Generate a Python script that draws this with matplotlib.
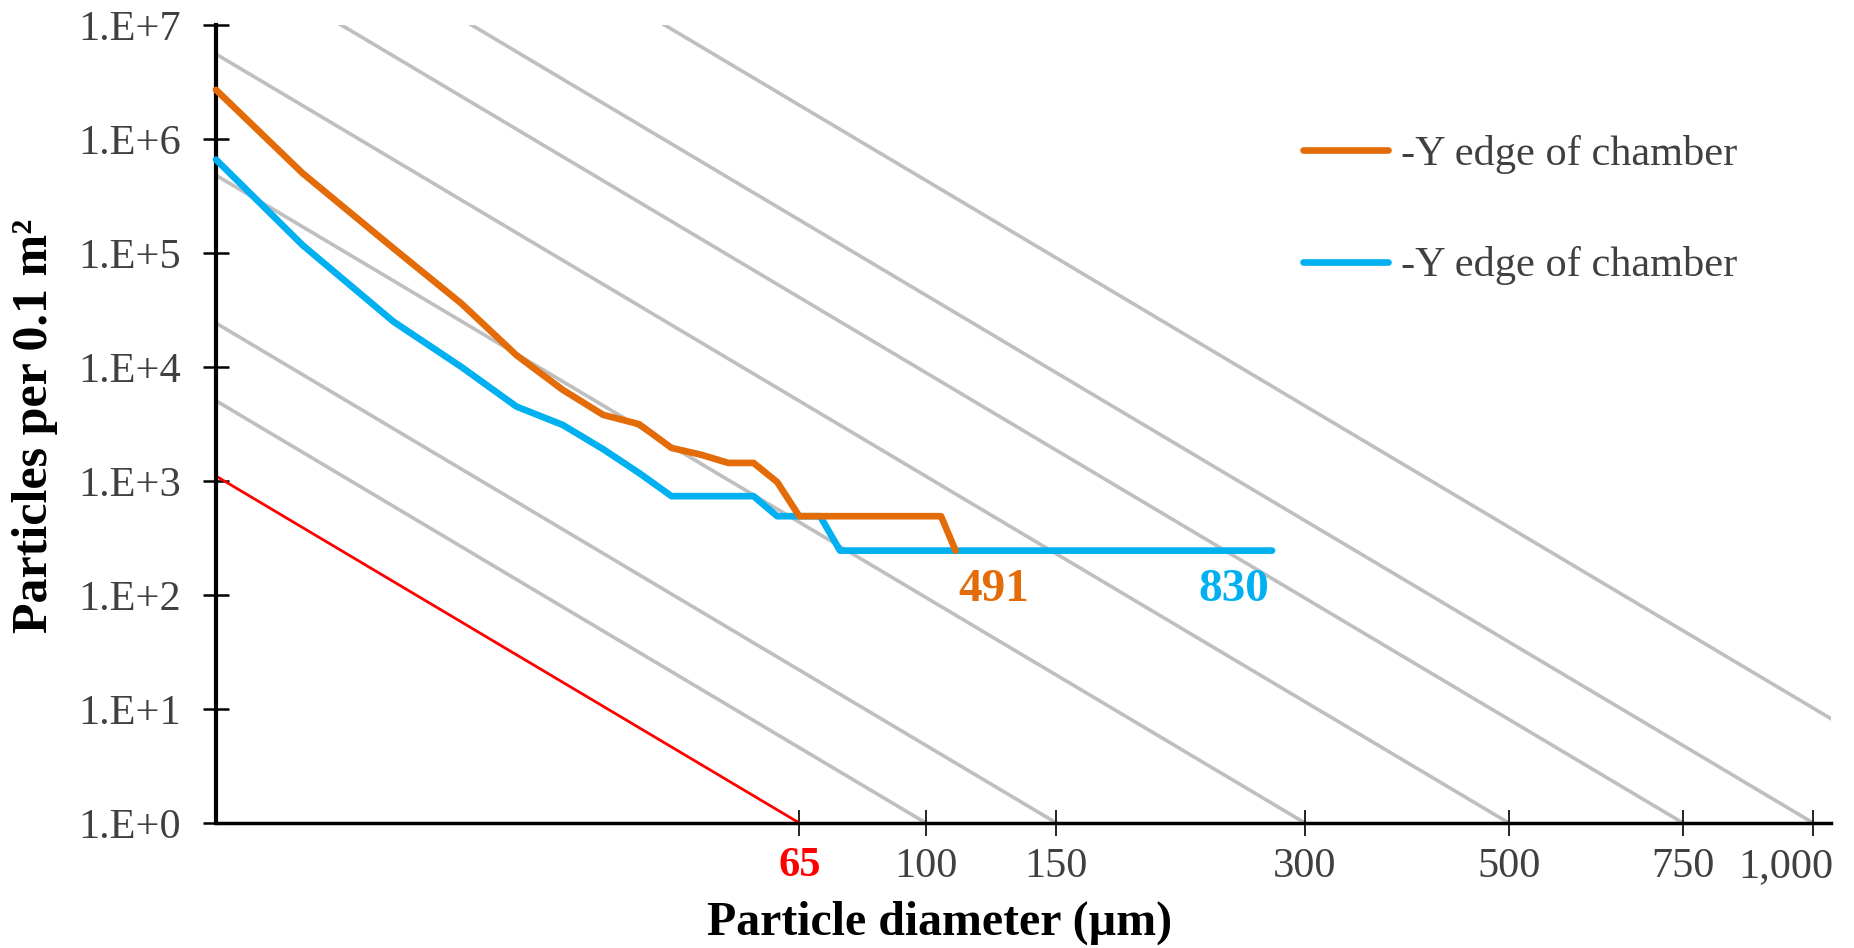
import numpy as np
import matplotlib.pyplot as plt
from matplotlib.transforms import ScaledTranslation

plt.rcParams['font.family'] = ['Liberation Serif', 'DejaVu Serif']

# ---------------------------------------------
# data
# ---------------------------------------------
size_orange = [1, 5, 10, 15, 20, 25, 30, 35, 40, 45, 50, 55, 60, 65, 105, 110]
count_orange = [2.7e6, 5.0e5, 1.1e5, 3.6e4, 1.27e4, 6300, 3800, 3150, 1950, 1700,
                1440, 1440, 980, 491, 491, 245]

size_blue = [1, 5, 10, 15, 20, 25, 30, 35, 40, 45, 50, 55, 60, 65, 70, 75, 275]
count_blue = [6.6e5, 1.17e5, 2.5e4, 1.0e4, 4500, 3100, 1900, 1175, 736, 736,
              736, 736, 491, 491, 491, 245, 245]

legend_labels = ['-Y edge of chamber', '-Y edge of chamber']
end_labels = ['491', '830']

# cleanliness levels (IEST-STD-CC1246) drawn as guide lines
gray_levels = [100, 150, 300, 500, 750, 1000, 1500]
red_level = 65
slope = 0.926

x_ticks = [65, 100, 150, 300, 500, 750, 1000]
x_tick_labels = ['65', '100', '150', '300', '500', '750', '1,000']
y_ticks = [1e0, 1e1, 1e2, 1e3, 1e4, 1e5, 1e6, 1e7]
y_tick_labels = ['1.E+0', '1.E+1', '1.E+2', '1.E+3', '1.E+4', '1.E+5', '1.E+6', '1.E+7']

c_orange = '#E36C09'
c_blue = '#00B0F0'
c_gray = '#BFBFBF'
c_text = '#404040'


# x axis is log^2 of the particle size
def fwd(x):
    return np.log10(np.maximum(x, 1.0)) ** 2


def inv(y):
    return 10 ** np.sqrt(np.maximum(y, 0.0))


fig = plt.figure(figsize=(18.54, 9.48), dpi=100)
ax = fig.add_axes([0.1165, 0.1319, 0.8711, 0.8417])
ax.set_xscale('function', functions=(fwd, inv))
ax.set_yscale('log')

# level lines: from size 1 up to size L where count = 1
for lvl in gray_levels:
    n0 = 10 ** (slope * np.log10(lvl) ** 2)
    ax.plot([1, lvl], [n0, 1], color=c_gray, lw=2.6, zorder=1)
n0 = 10 ** (slope * np.log10(red_level) ** 2)
ax.plot([1, red_level], [n0, 1], color='red', lw=2.0, zorder=2)

ax.plot(size_orange, count_orange, color=c_orange, lw=4.8, solid_capstyle='round',
        solid_joinstyle='round', label=legend_labels[0], zorder=4, clip_on=False)
ax.plot(size_blue, count_blue, color=c_blue, lw=4.8, solid_capstyle='round',
        solid_joinstyle='round', label=legend_labels[1], zorder=3, clip_on=False)

ax.annotate(end_labels[0], xy=(size_orange[-1], count_orange[-1]), xytext=(2, -28),
            textcoords='offset points', ha='left', va='center', color=c_orange,
            fontsize=34, fontweight='bold')
ax.annotate(end_labels[1], xy=(size_blue[-1], count_blue[-1]), xytext=(-2, -28),
            textcoords='offset points', ha='right', va='center', color=c_blue,
            fontsize=34, fontweight='bold')

ax.set_xlim(1, inv(9.1))
ax.set_ylim(1, 1e7)

ax.set_xticks(x_ticks)
ax.set_xticklabels(x_tick_labels)
ax.xaxis.set_minor_locator(plt.NullLocator())
ax.set_yticks(y_ticks)
ax.set_yticklabels(y_tick_labels)
ax.yaxis.set_minor_locator(plt.NullLocator())

ax.tick_params(axis='x', direction='inout', length=19, width=1.2, pad=8,
               labelsize=30.5, labelcolor=c_text)
ax.tick_params(axis='y', direction='inout', length=19, width=1.8, pad=16,
               labelsize=30.5, labelcolor=c_text)
xlabs = ax.get_xticklabels()
xlabs[0].set_color('red')
xlabs[0].set_fontweight('bold')
# last label is nudged left to stay inside, as in the original
xlabs[-1].set_transform(xlabs[-1].get_transform() +
                        ScaledTranslation(-0.27, 0, fig.dpi_scale_trans))

for s in ['top', 'right']:
    ax.spines[s].set_visible(False)
ax.spines['left'].set_linewidth(3)
ax.spines['bottom'].set_linewidth(2.5)

ax.set_xlabel('Particle diameter (µm)', fontsize=34.5, fontweight='bold')
ax.xaxis.label.set_va('center')
ax.xaxis.set_label_coords(0.448, -0.125)
ax.set_ylabel('Particles per 0.1 m²', fontsize=36, fontweight='bold')
ax.yaxis.label.set_va('center')
ax.yaxis.set_label_coords(-0.112, 0.4975)

leg = ax.legend(loc='upper left', bbox_to_anchor=(0.703, 0.858),
                bbox_transform=fig.transFigure, frameon=False, fontsize=30.5,
                handlelength=2.0, handletextpad=0.3, labelspacing=1.72,
                borderpad=0, borderaxespad=0, labelcolor=c_text)

fig.savefig('out.png', dpi=100)
